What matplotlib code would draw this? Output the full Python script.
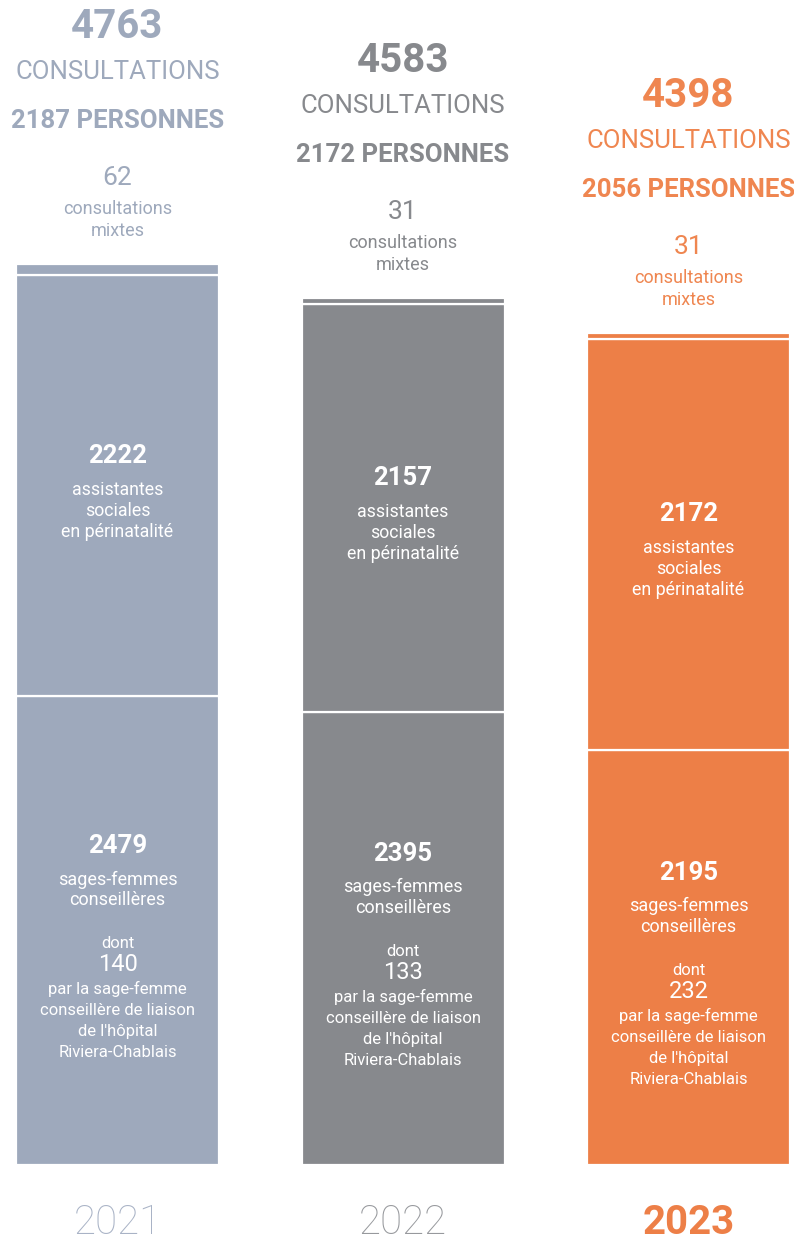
import matplotlib.pyplot as plt
import numpy as np

plt.rcParams['font.family'] = ['Roboto', 'DejaVu Sans']

years = ['2021', '2022', '2023']
total = [4763, 4583, 4398]
personnes = [2187, 2172, 2056]
sages_femmes = [2479, 2395, 2195]
assistantes = [2222, 2157, 2172]
mixtes = [62, 31, 31]
liaison = [140, 133, 232]

colors = ['#9ea9bc', '#87898d', '#ed7f47']
year_colors = ['#a9b3c6', '#97999d', '#ed7f47']

fig = plt.figure(figsize=(7.94, 12.41), dpi=100)
# px -> data scale: about 0.189 px per consultation
ax = fig.add_axes([0, 76 / 1241, 1, 1165 / 1241])
ax.set_xlim(-0.4116, 2.3695)
ax.set_ylim(0, 6157)
ax.axis('off')

x = np.arange(len(years))
w = 0.711
sf = np.array(sages_femmes)
asst = np.array(assistantes)
mx = np.array(mixtes)

for i in range(len(years)):
    ax.bar(x[i], sf[i], w, color=colors[i], edgecolor='white', linewidth=1.6)
    ax.bar(x[i], asst[i], w, bottom=sf[i], color=colors[i], edgecolor='white', linewidth=1.6)
    ax.bar(x[i], mx[i], w, bottom=sf[i] + asst[i], color=colors[i], edgecolor='white', linewidth=1.6)

pt = 0.72  # points per pixel at dpi 100

def put(txt, xi, y, dy_px, size, color, weight='normal'):
    ax.annotate(txt, (xi, y), xytext=(0, -dy_px * pt), textcoords='offset points',
                ha='center', va='center', fontsize=size, color=color,
                fontweight=weight, annotation_clip=False)

for i in range(len(years)):
    c = colors[i] if i < 2 else '#ef8650'
    top = sf[i] + asst[i] + mx[i]
    put(str(total[i]), x[i], top, -237, 29, c, 'bold')
    put('CONSULTATIONS', x[i], top, -192, 18.5, c)
    put('%d PERSONNES' % personnes[i], x[i], top, -143, 18.5, c, 'bold')
    put(str(mixtes[i]), x[i], top, -86, 19, c)
    put('consultations', x[i], top, -55, 13, c)
    put('mixtes', x[i], top, -33, 13, c)

    # assistantes segment
    mid = sf[i] + asst[i] / 2
    put(str(assistantes[i]), x[i], mid, -30, 18.5, 'white', 'bold')
    put('assistantes', x[i], mid, 4, 12.8, 'white')
    put('sociales', x[i], mid, 25, 12.8, 'white')
    put('en périnatalité', x[i], mid, 46, 12.8, 'white')

    # sages-femmes segment
    mid = sf[i] / 2
    put(str(sages_femmes[i]), x[i], mid, -84, 18.5, 'white', 'bold')
    put('sages-femmes', x[i], mid, -51, 13, 'white')
    put('conseillères', x[i], mid, -30, 13, 'white')
    put('dont', x[i], mid, 13, 12, 'white')
    put(str(liaison[i]), x[i], mid, 34, 17, 'white')
    put('par la sage-femme', x[i], mid, 59, 12, 'white')
    put('conseillère de liaison', x[i], mid, 80, 12, 'white')
    put("de l'hôpital", x[i], mid, 101, 12, 'white')
    put('Riviera-Chablais', x[i], mid, 122, 12, 'white')

    put(years[i], x[i], 0, 58, 29, year_colors[i], 'bold' if i == 2 else 'light')

fig.savefig('out.png', dpi=100)
